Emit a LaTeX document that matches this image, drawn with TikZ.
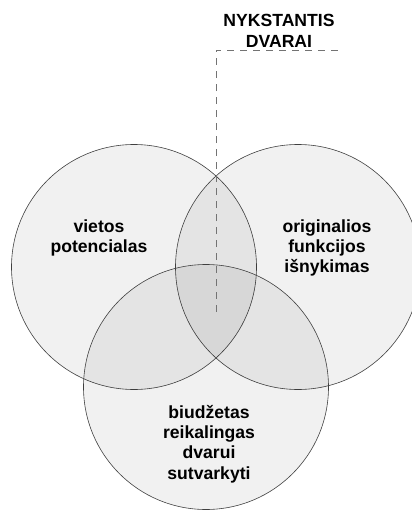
\documentclass[tikz,border=0pt]{standalone}
\usepackage{fontspec}
\setmainfont{Liberation Sans}
\tikzset{
  venn/.style={circle, draw=black!75, line width=0.6pt, fill=black, fill opacity=0.055, draw opacity=1, minimum size=245pt, inner sep=0pt},
  label/.style={align=center, font=\fontsize{17.6}{20.4}\selectfont\bfseries, text=black}
}
\begin{document}
\begin{tikzpicture}[x=1pt, y=-1pt]
        \useasboundingbox (0, 0) rectangle (412, 511);
        % circles
        \node[venn] (vieta) at (134, 267) {};
        \node[venn] (funkcija) at (298, 267) {};
        \node[venn] (biudzetas) at (206, 387) {};
        % texts
        \node[label] (vietaTxt) at (99, 238) {vietos\\potencialas};
        \node[label] (funkcijaTxt) at (327, 248) {originalios\\funkcijos\\išnykimas};
        \node[label] (biudzetasTxt) at (209, 444) {biudžetas\\reikalingas\\dvarui\\sutvarkyti};
        \node[label] (dvarai) at (279, 31) {NYKSTANTIS\\DVARAI};
        % pointer
        \coordinate (centras) at (216, 312);
        \coordinate (kampas) at (216, 50);
        \coordinate (galas) at (342, 50);
        \draw[black!55, line width=0.6pt, dash pattern=on 7pt off 6pt] (centras) -- (kampas) -- (galas);
    \end{tikzpicture}
\end{document}
